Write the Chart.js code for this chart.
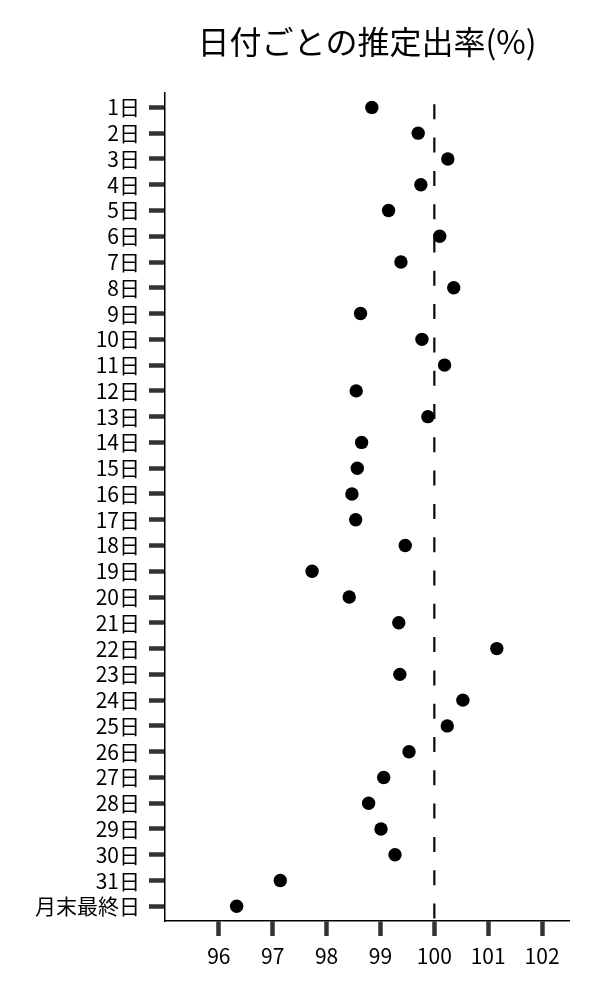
<!DOCTYPE html>
<html lang="ja">
<head>
<meta charset="utf-8">
<title>日付ごとの推定出率</title>
<script src="https://cdn.jsdelivr.net/npm/chart.js@4"></script>
<style>
  html, body { margin: 0; padding: 0; background: #fff; }
  #wrap { width: 600px; height: 1000px; }
</style>
</head>
<body>
<div id="wrap"><canvas id="rateChart" width="600" height="1000"></canvas></div>
<script>
// 日付ラベル（上から順に）
const dayLabels = [
  "1日", "2日", "3日", "4日", "5日", "6日", "7日", "8日", "9日", "10日",
  "11日", "12日", "13日", "14日", "15日", "16日", "17日", "18日", "19日", "20日",
  "21日", "22日", "23日", "24日", "25日", "26日", "27日", "28日", "29日", "30日",
  "31日", "月末最終日",
];

// 推定出率(%)
const rates = [
  98.84, 99.70, 100.25, 99.75, 99.15, 100.10, 99.38, 100.36, 98.63, 99.77,
  100.19, 98.55, 99.88, 98.65, 98.57, 98.47, 98.54, 99.46, 97.73, 98.42,
  99.34, 101.16, 99.36, 100.53, 100.24, 99.53, 99.06, 98.78, 99.01, 99.27,
  97.14, 96.33,
];

// x軸の目盛り
const xTicks = [96, 97, 98, 99, 100, 101, 102];
const xTickLabels = ["96", "97", "98", "99", "100", "101", "102"];

// 基準線 (100%)
const refValue = 100;

const FONT = "'Noto Sans CJK JP', 'Noto Sans', sans-serif";
const yMin = -0.57;
const yMax = dayLabels.length - 1 + 0.57;

document.addEventListener("DOMContentLoaded", function () {
  const points = rates.map((v, i) => ({ x: v, y: i }));

  const ctx = document.getElementById("rateChart").getContext("2d");
  new Chart(ctx, {
    type: "scatter",
    data: {
      datasets: [
        {
          data: points,
          backgroundColor: "#000",
          borderColor: "#000",
          pointRadius: 6.7,
          pointHoverRadius: 6.7,
          borderWidth: 0,
          order: 1,
        },
        {
          // 100% の破線
          data: [
            { x: refValue, y: yMin },
            { x: refValue, y: yMax },
          ],
          showLine: true,
          borderColor: "#111",
          borderWidth: 2.3,
          borderDash: [15, 18.3],
          borderDashOffset: 21.7,
          pointRadius: 0,
          order: 2,
        },
      ],
    },
    options: {
      responsive: false,
      animation: false,
      events: [],
      layout: {
        padding: { top: 4, left: 0, right: 31, bottom: 0 },
      },
      plugins: {
        legend: { display: false },
        tooltip: { enabled: false },
        title: {
          display: true,
          text: "日付ごとの推定出率(%)",
          fullSize: false,
          color: "#000",
          font: { family: FONT, size: 32, weight: "normal", lineHeight: 1.2 },
          padding: { top: 18.8, bottom: 31.5 },
        },
      },
      scales: {
        x: {
          type: "linear",
          position: "bottom",
          min: 95,
          max: 102.5,
          afterBuildTicks: function (scale) {
            scale.ticks = xTicks.map((v) => ({ value: v }));
          },
          afterFit: function (scale) {
            scale.height = 79;
          },
          ticks: {
            color: "#000",
            font: { family: FONT, size: 21 },
            padding: 7,
            maxRotation: 0,
            autoSkip: false,
            callback: function (value) {
              const idx = xTicks.indexOf(value);
              return idx >= 0 ? xTickLabels[idx] : "";
            },
          },
          grid: {
            drawOnChartArea: false,
            drawTicks: true,
            tickLength: 15,
            tickWidth: 4.5,
            tickColor: "#333",
          },
          border: { display: true, color: "#000", width: 1.5 },
        },
        y: {
          type: "linear",
          reverse: true,
          min: yMin,
          max: yMax,
          afterBuildTicks: function (scale) {
            scale.ticks = dayLabels.map((_, i) => ({ value: i }));
          },
          afterFit: function (scale) {
            scale.width = 165;
          },
          ticks: {
            color: "#000",
            font: { family: FONT, size: 21 },
            padding: 9,
            autoSkip: false,
            callback: function (value) {
              return dayLabels[value] !== undefined ? dayLabels[value] : "";
            },
          },
          grid: {
            drawOnChartArea: false,
            drawTicks: true,
            tickLength: 16,
            tickWidth: 4.5,
            tickColor: "#333",
          },
          border: { display: true, color: "#000", width: 1.5 },
        },
      },
    },
  });
});
</script>
</body>
</html>
